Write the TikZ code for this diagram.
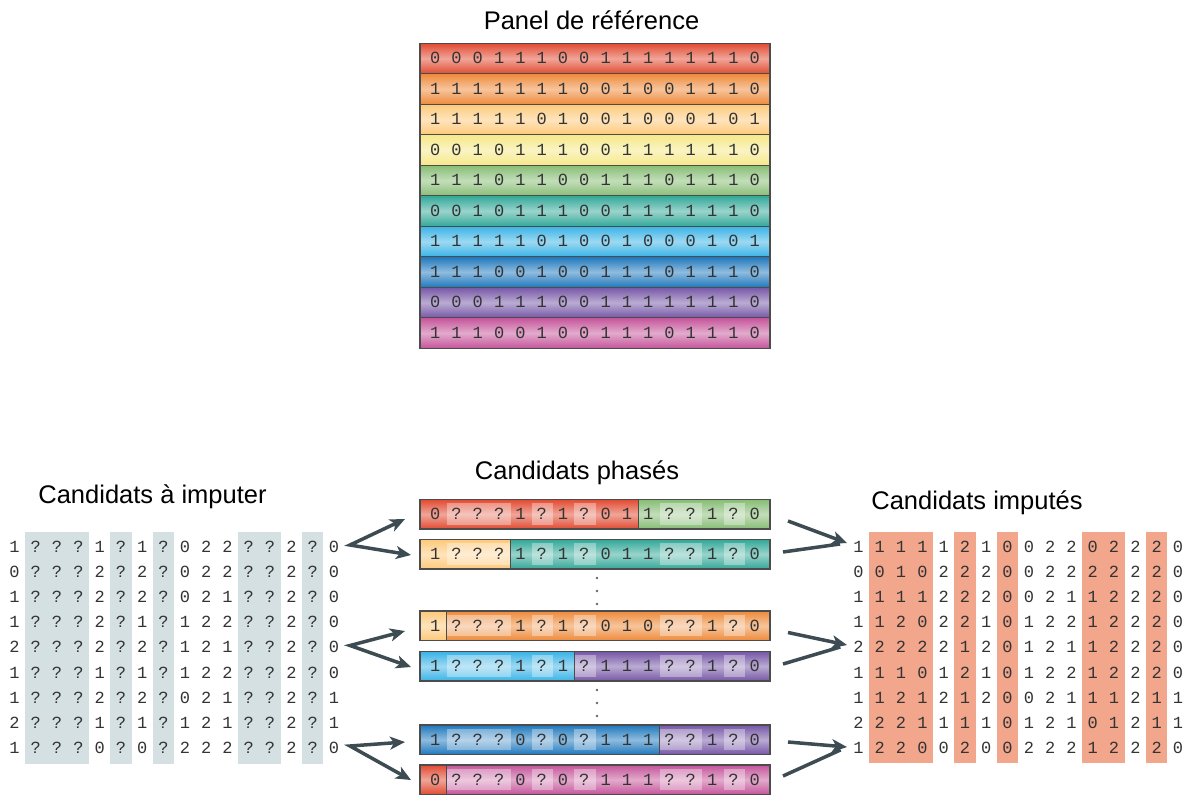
\documentclass[tikz,border=0pt]{standalone}
\usepackage{fontspec}
\setmainfont{Liberation Sans}
\newfontfamily\monofam{Liberation Mono}
\usetikzlibrary{arrows.meta}

\definecolor{c1}{HTML}{E14B32}
\definecolor{c2}{HTML}{EE8A3A}
\definecolor{c3}{HTML}{FDC97A}
\definecolor{c4}{HTML}{F6E888}
\definecolor{c5}{HTML}{87BD75}
\definecolor{c6}{HTML}{33A898}
\definecolor{c7}{HTML}{3AB3E6}
\definecolor{c8}{HTML}{1F78BD}
\definecolor{c9}{HTML}{7657A6}
\definecolor{c10}{HTML}{C5559A}
\definecolor{ink}{HTML}{333333}
\definecolor{flowgrey}{HTML}{3D4B53}
\definecolor{inband}{HTML}{D5E0E3}
\definecolor{outband}{HTML}{F2A68C}

% one fixed-width cell per character
\newcommand\cells[1]{\cellsi#1\relax}
\newcommand\cellsi[1]{\ifx\relax#1\else\makebox[21.3pt][c]{#1}\expandafter\cellsi\fi}

\tikzset{
  title/.style={font=\fontsize{25.5pt}{30pt}\selectfont, anchor=base},
  digits/.style={font=\monofam\fontsize{17pt}{17pt}\selectfont, text=ink,
    inner sep=0pt, text height=10.6pt, text depth=0pt},
  tint/.style={top color=#1, bottom color=#1, middle color=#1!50!white},
  refrow/.style={digits, draw=black!70, line width=1.1pt,
    minimum width=350pt, minimum height=30.5pt},
  barbox/.style={digits, draw=black!70, line width=1.1pt,
    minimum width=350pt, minimum height=29.5pt},
  barline/.style={draw=black!70, line width=1.1pt},
  patch/.style={fill=white, fill opacity=0.35},
  flow/.style={draw=flowgrey, line width=3.5pt, line join=miter,
    -{Stealth[length=15pt,width=13pt,inset=4pt]}},
  fork/.style={flow, {Stealth[length=15pt,width=13pt,inset=4pt]}-{Stealth[length=15pt,width=13pt,inset=4pt]}},
  flowline/.style={draw=flowgrey, line width=3.5pt},
}

% name, top, split column, left colour, right colour, cells
\newcommand\phased[6]{%
  \shade[tint=#4] (420,#2) rectangle (425.35+21.3*#3,#2+29.5);
  \shade[tint=#5] (425.35+21.3*#3,#2) rectangle (770,#2+29.5);
  \foreach \p/\q in {1/3,5/5,7/7,11/12,14/14}
    \fill[patch] (425.35+21.3*\p,#2+3.5) rectangle (446.65+21.3*\q,#2+25);
  \draw[barline] (425.35+21.3*#3,#2) -- (425.35+21.3*#3,#2+29.5);
  \node[barbox] (#1) at (595,#2+14.75) {\cells{#6}};
}

\begin{document}
\begin{tikzpicture}[x=1pt, y=-1pt]
  \useasboundingbox (0,0) rectangle (1187,796);

  % reference panel
  \node[title] (tref) at (591.5,29) {Panel de référence};
  \node[refrow, tint=c1]  (r1)  at (595,58.55)  {\cells{0001110011111110}};
  \node[refrow, tint=c2]  (r2)  at (595,89.05)  {\cells{1111111001001110}};
  \node[refrow, tint=c3]  (r3)  at (595,119.55) {\cells{1111101001000101}};
  \node[refrow, tint=c4]  (r4)  at (595,150.05) {\cells{0010111001111110}};
  \node[refrow, tint=c5]  (r5)  at (595,180.55) {\cells{1110110011101110}};
  \node[refrow, tint=c6]  (r6)  at (595,211.05) {\cells{0010111001111110}};
  \node[refrow, tint=c7]  (r7)  at (595,241.55) {\cells{1111101001000101}};
  \node[refrow, tint=c8]  (r8)  at (595,272.05) {\cells{1110010011101110}};
  \node[refrow, tint=c9]  (r9)  at (595,302.55) {\cells{0001110011111110}};
  \node[refrow, tint=c10] (r10) at (595,333.05) {\cells{1110010011101110}};

  % candidates to impute
  \node[title] (tin) at (152.5,503) {Candidats à imputer};
  \foreach \p/\q in {1/3,5/5,7/7,11/12,14/14}
    \fill[inband] (3.85+21.3*\p,532) rectangle (25.15+21.3*\q,764);
  \node[digits] (a1) at (174.25,546.7) {\cells{1???1?1?022??2?0}};
  \node[digits] (a2) at (174.25,571.9) {\cells{0???2?2?022??2?0}};
  \node[digits] (a3) at (174.25,597.1) {\cells{1???2?2?021??2?0}};
  \node[digits] (a4) at (174.25,622.3) {\cells{1???2?1?122??2?0}};
  \node[digits] (a5) at (174.25,647.5) {\cells{2???2?2?121??2?0}};
  \node[digits] (a6) at (174.25,672.7) {\cells{1???1?1?122??2?0}};
  \node[digits] (a7) at (174.25,697.9) {\cells{1???2?2?021??2?1}};
  \node[digits] (a8) at (174.25,723.1) {\cells{2???1?1?121??2?1}};
  \node[digits] (a9) at (174.25,748.3) {\cells{1???0?0?222??2?0}};

  % phased candidates
  \node[title] (tphase) at (577,479) {Candidats phasés};
  \phased{b1}{499.5}{10}{c1}{c5}{0???1?1?011??1?0}
  \phased{b2}{539.5}{4}{c3}{c6}{1???1?1?011??1?0}
  \phased{b3}{611}{1}{c3}{c2}{1???1?1?010??1?0}
  \phased{b4}{651.5}{7}{c7}{c9}{1???1?1?111??1?0}
  \phased{b5}{725}{11}{c8}{c9}{1???0?0?111??1?0}
  \phased{b6}{765}{1}{c1}{c10}{0???0?0?111??1?0}
  \foreach \y in {578,591,604,690,703,716}
    \fill[black!60] (597,\y) circle (1.3);

  % imputed candidates
  \node[title] (tout) at (977,509) {Candidats imputés};
  \foreach \p/\q in {1/3,5/5,7/7,11/12,14/14}
    \fill[outband] (847.85+21.3*\p,532) rectangle (869.15+21.3*\q,763);
  \node[digits] (c1) at (1018.25,546.7) {\cells{1111121002202220}};
  \node[digits] (c2) at (1018.25,571.9) {\cells{0010222002222220}};
  \node[digits] (c3) at (1018.25,597.1) {\cells{1111222002112220}};
  \node[digits] (c4) at (1018.25,622.3) {\cells{1120221012212220}};
  \node[digits] (c5) at (1018.25,647.5) {\cells{2222212012112220}};
  \node[digits] (c6) at (1018.25,672.7) {\cells{1110121012212220}};
  \node[digits] (c7) at (1018.25,697.9) {\cells{1121212002111211}};
  \node[digits] (c8) at (1018.25,723.1) {\cells{2221111012101211}};
  \node[digits] (c9) at (1018.25,748.3) {\cells{1220020022212220}};

  % arrows
  \coordinate (fork1) at (350,545);   \coordinate (in1) at (405,519);   \coordinate (in2) at (411,555);
  \coordinate (fork2) at (350,645.5); \coordinate (in3) at (405,631);   \coordinate (in4) at (411,667);
  \coordinate (fork3) at (350,746);   \coordinate (in5) at (405,742);   \coordinate (in6) at (411,780);
  \draw[fork] (in1) -- (fork1) -- (in2);
  \draw[fork] (in3) -- (fork2) -- (in4);
  \draw[fork] (in5) -- (fork3) -- (in6);

  \coordinate (out1) at (788,521);   \coordinate (out2) at (783,552);   \coordinate (join1) at (847,543);
  \coordinate (out3) at (788,632.5); \coordinate (out4) at (783,664);   \coordinate (join2) at (847,645);
  \coordinate (out5) at (788,742);   \coordinate (out6) at (783,776);   \coordinate (join3) at (847,747);
  \draw[flow] (out1) -- (join1);
  \draw[flowline, shorten >=7pt] (out2) -- (join1);
  \draw[flow] (out3) -- (join2);
  \draw[flowline, shorten >=7pt] (out4) -- (join2);
  \draw[flow] (out5) -- (join3);
  \draw[flowline, shorten >=7pt] (out6) -- (join3);
\end{tikzpicture}
\end{document}
